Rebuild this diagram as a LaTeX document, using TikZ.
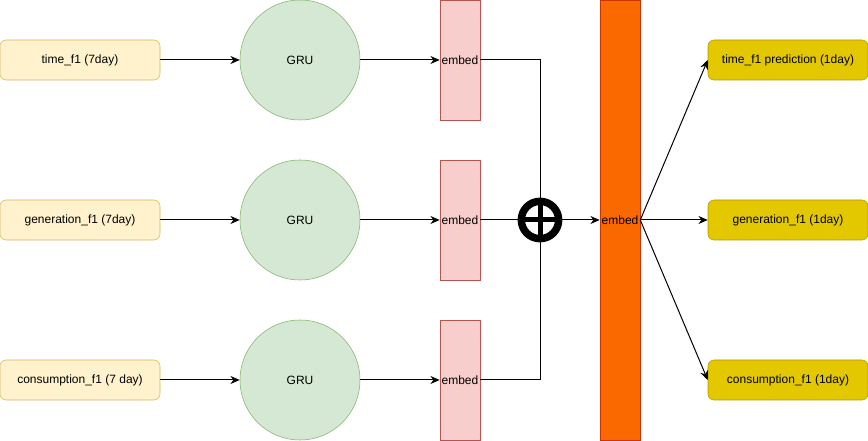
\documentclass[tikz,border=0pt]{standalone}
\usepackage{fontspec}
\setmainfont{Liberation Sans}
\usetikzlibrary{arrows.meta}
\definecolor{inFill}{HTML}{FFF2CC}
\definecolor{inLine}{HTML}{D6B656}
\definecolor{gruFill}{HTML}{D5E8D4}
\definecolor{gruLine}{HTML}{82B366}
\definecolor{embFill}{HTML}{F8CECC}
\definecolor{embLine}{HTML}{B85450}
\definecolor{bigFill}{HTML}{FA6800}
\definecolor{bigLine}{HTML}{C73500}
\definecolor{outFill}{HTML}{E3C800}
\definecolor{outLine}{HTML}{B09500}
\tikzset{
  inbox/.style={draw=inLine, fill=inFill, rounded corners=4.5pt, minimum width=120pt, minimum height=30pt, inner sep=0pt, font=\fontsize{9}{11}\selectfont},
  outbox/.style={draw=outLine, fill=outFill, rounded corners=4.5pt, minimum width=120pt, minimum height=30pt, inner sep=0pt, font=\fontsize{9}{11}\selectfont},
  grunode/.style={circle, draw=gruLine, fill=gruFill, minimum size=90pt, inner sep=0pt, font=\fontsize{9}{11}\selectfont},
  embnode/.style={draw=embLine, fill=embFill, minimum width=30pt, minimum height=90pt, inner sep=0pt, font=\fontsize{9}{11}\selectfont},
  bignode/.style={draw=bigLine, fill=bigFill, minimum width=30pt, minimum height=330pt, inner sep=0pt, font=\fontsize{9}{11}\selectfont},
  plusnode/.style={circle, draw=black, line width=5.6pt, minimum size=28pt, inner sep=0pt},
  conn/.style={draw=black, line width=0.75pt, -{Stealth[length=7pt,width=6pt]}},
  line/.style={draw=black, line width=0.75pt},
}
\begin{document}
\begin{tikzpicture}[x=0.75pt, y=-0.75pt]
\useasboundingbox (0,0) rectangle (868,441);
% inputs
\node[inbox] (in1) at (80,60) {time\_f1 (7day)};
\node[inbox] (in2) at (80,220) {generation\_f1 (7day)};
\node[inbox] (in3) at (80,380) {consumption\_f1 (7 day)};
% GRUs
\node[grunode] (g1) at (300,60) {GRU};
\node[grunode] (g2) at (300,220) {GRU};
\node[grunode] (g3) at (300,380) {GRU};
% embeds
\node[embnode] (e1) at (460,60) {embed};
\node[embnode] (e2) at (460,220) {embed};
\node[embnode] (e3) at (460,380) {embed};
% big embed
\node[bignode] (big) at (620,220) {embed};
% plus
\node[plusnode] (plus) at (540,220) {};
% outputs
\node[outbox] (o1) at (788,60) {time\_f1 prediction (1day)};
\node[outbox] (o2) at (788,220) {generation\_f1 (1day)};
\node[outbox] (o3) at (788,380) {consumption\_f1 (1day)};
% connectors
\draw[conn] (in1) -- (g1);
\draw[conn] (in2) -- (g2);
\draw[conn] (in3) -- (g3);
\draw[conn] (g1) -- (e1.west);
\draw[conn] (g2) -- (e2.west);
\draw[conn] (g3) -- (e3.west);
\draw[line] (e1.east) -| (plus.north);
\draw[line] (e3.east) -| (plus.south);
\draw[line] (e2.east) -- (plus.west);
\draw[conn] (plus.east) -- (big.west);
\draw[line, line width=3.75pt] (plus.north) -- (plus.south);
\draw[line, line width=3.75pt] (plus.west) -- (plus.east);
\draw[conn] (big.east) -- (o1.west);
\draw[conn] (big.east) -- (o2.west);
\draw[conn] (big.east) -- (o3.west);
\end{tikzpicture}
\end{document}
